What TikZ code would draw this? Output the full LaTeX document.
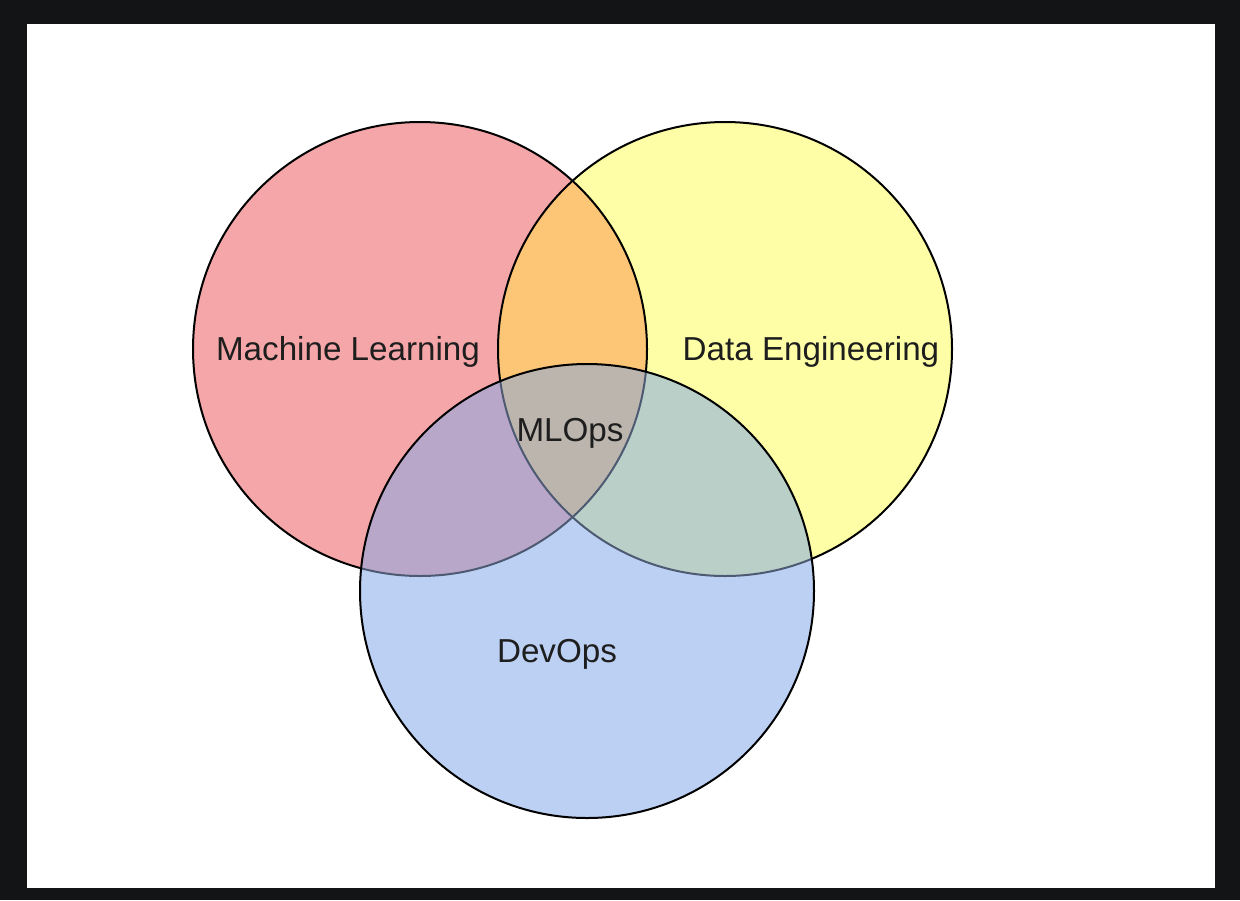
\documentclass[tikz,border=0pt]{standalone}
\usepackage{fontspec}
\setmainfont{Liberation Sans}
\definecolor{frame}{HTML}{131416}
\definecolor{mlred}{HTML}{F5A6A8}
\definecolor{deyellow}{HTML}{FEFEA6}
\definecolor{doblue}{HTML}{BCD0F4}
\definecolor{mlde}{HTML}{FDC576}
\definecolor{mldo}{HTML}{B9A7CA}
\definecolor{dedo}{HTML}{BACFC8}
\definecolor{allthree}{HTML}{BBB5AD}
\definecolor{faded}{HTML}{4D5A72}
\definecolor{labelgray}{HTML}{1E1E1E}
\begin{document}
\begin{tikzpicture}[x=0.5pt,y=-0.5pt,
    lbl/.style={anchor=base,text=labelgray,font=\fontsize{16.6}{20}\selectfont},
    ring/.style={line width=1pt}]
  \useasboundingbox (0,0) rectangle (1240,900);
  \fill[frame] (0,0) rectangle (1240,900);
  \fill[white] (27,24) rectangle (1215,888);
  % circle centres
  \coordinate (ml) at (420,349);
  \coordinate (de) at (725,349);
  \coordinate (do) at (587,591);
  \def\rr{113.5pt}
  % red and yellow
  \fill[mlred] (ml) circle[radius=\rr];
  \fill[deyellow] (de) circle[radius=\rr];
  \begin{scope}
    \clip (ml) circle[radius=\rr];
    \fill[mlde] (de) circle[radius=\rr];
  \end{scope}
  \draw[ring] (ml) circle[radius=\rr];
  \draw[ring] (de) circle[radius=\rr];
  % blue on top
  \fill[doblue] (do) circle[radius=\rr];
  \begin{scope}
    \clip (do) circle[radius=\rr];
    \fill[mldo] (ml) circle[radius=\rr];
    \fill[dedo] (de) circle[radius=\rr];
    \clip (ml) circle[radius=\rr];
    \fill[allthree] (de) circle[radius=\rr];
  \end{scope}
  \begin{scope}
    \clip (do) circle[radius=\rr];
    \draw[ring,faded] (ml) circle[radius=\rr];
    \draw[ring,faded] (de) circle[radius=\rr];
  \end{scope}
  \draw[ring] (do) circle[radius=\rr];
  % labels
  \node[lbl] (mltext) at (348,360) {Machine Learning};
  \node[lbl] (detext) at (811,360) {Data Engineering};
  \node[lbl] (optext) at (570,441) {MLOps};
  \node[lbl] (dotext) at (557,662) {DevOps};
\end{tikzpicture}
\end{document}
